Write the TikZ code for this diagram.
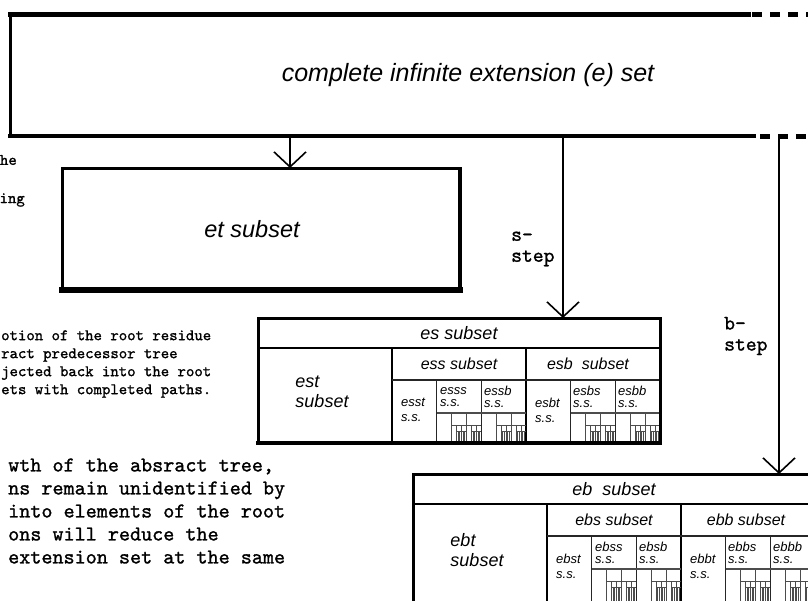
\documentclass[tikz,border=0pt]{standalone}
\usepackage{fontspec}
\setmainfont{Liberation Sans}
\newfontfamily\monof{lmmono10-regular}[Extension=.otf,FakeBold=1.2]
\usetikzlibrary{arrows.meta}
\newcommand\ybot{443}
\newcommand\subcol[4]{%
  \begingroup
  \edef\hh{\ifcase#4 30\or 32\or 33\or 12\or 6\else 3\fi}%
  \pgfmathsetmacro\xa{#1+#2/3}%
  \pgfmathsetmacro\xb{#1+2*#2/3}%
  \pgfmathsetmacro\xc{#1+#2}%
  \pgfmathsetmacro\ws{#2/3}%
  \pgfmathsetmacro\yh{#3+\hh}%
  \draw[lv#4] (#1,\yh) -- (\xc,\yh) (\xa,\yh) -- (\xa,\ybot) (\xb,\yh) -- (\xb,\ybot);
  \ifnum#4<4
    \edef\next{\noexpand\subcol{\xa}{\ws}{\yh}{\the\numexpr#4+1\relax}%
      \noexpand\subcol{\xb}{\ws}{\yh}{\the\numexpr#4+1\relax}}%
    \expandafter\next
  \fi
  \endgroup}
\tikzset{
  lv0/.style={line width=2.5pt,black},
  lv1/.style={line width=1.6pt,black!85},
  lv2/.style={line width=1.2pt,black!70},
  lv3/.style={line width=0.9pt,black!70},
  lv4/.style={line width=0.7pt,black!70},
  arr/.style={line width=1.6pt,-{Straight Barb[length=15pt,width=32pt]}},
  holder/.style={draw=none,inner sep=0pt,outer sep=0pt},
  bigtxt/.style={font=\fontsize{18}{20}\selectfont\itshape,inner sep=0pt},
  midtxt/.style={font=\fontsize{16}{18}\selectfont\itshape,inner sep=0pt},
  smtxt/.style={font=\fontsize{13}{12}\selectfont\itshape,inner sep=0pt,align=left,anchor=west},
  tcoltxt/.style={font=\fontsize{13}{15}\selectfont\itshape,inner sep=0pt,align=left,anchor=west},
  monoA/.style={font=\monof\fontsize{16}{18}\selectfont,inner sep=0pt,align=left},
  monoB/.style={font=\monof\fontsize{21.1}{23}\selectfont,inner sep=0pt,align=left},
  monoL/.style={font=\monof\fontsize{20.6}{21}\selectfont,inner sep=0pt,align=left,anchor=west},
}
\begin{document}
\begin{tikzpicture}[x=1pt,y=-1pt]
\useasboundingbox (0,0) rectangle (808,600);
\clip (0,0) rectangle (808,600);
\fill[white] (0,0) rectangle (808,600);

% main box
\node[holder,minimum width=738pt,minimum height=122pt] (main) at (379,75) {};
\draw[line width=3pt,line cap=rect] (main.north west) -- (main.south west);
\draw[line width=5pt,line cap=rect] (main.north west) -- (main.north east);
\draw[line width=4.5pt,line cap=rect] (main.south west) -- ([xshift=6pt]main.south east);
\draw[line width=5pt,dash pattern=on 10pt off 8pt] ([xshift=4pt]main.north east) -- ++(70,0);
\draw[line width=5pt,dash pattern=on 10pt off 8pt] ([xshift=12pt]main.south east) -- ++(70,0);
\node[font=\fontsize{25}{28}\selectfont\itshape,inner sep=0pt] (title) at (468,75) {complete infinite extension (e) set};

% et box
\node[holder,minimum width=398pt,minimum height=122pt] (et) at (261,229) {};
\draw[line width=3pt] (et.north west) rectangle (et.south east);
\draw[line width=6pt,line cap=rect] (et.south west) -- (et.south east);
\draw[line width=4pt] (et.north east) -- (et.south east);
\node[font=\fontsize{23.5}{26}\selectfont\itshape,inner sep=0pt] (ettxt) at (252,229) {et subset};

% es box
\node[holder,minimum width=402pt,minimum height=125pt] (es) at (459,380.5) {};
\renewcommand\ybot{443}
\subcol{258}{402}{318}{0}
\draw[line width=3pt] (es.north west) rectangle (es.south east);
\draw[line width=4.5pt,line cap=rect] (es.south west) -- (es.south east);

% eb box
\node[holder,minimum width=402pt,minimum height=156pt] (eb) at (614,552) {};
\renewcommand\ybot{640}
\subcol{413}{402}{474}{0}
\draw[line width=3pt] (eb.north west) rectangle (eb.south east);

% es texts
\node[bigtxt] (t-es) at (459,333) {es subset};
\node[bigtxt,align=left] (t-est) at (322,392) {est\\subset};
\node[midtxt] (t-ess) at (459,364) {ess subset};
\node[midtxt] (t-esb) at (588,364) {esb\ \ subset};
\node[tcoltxt] (t-esst) at (401,410) {esst\\s.s.};
\node[smtxt] (t-esss) at (440,397) {esss\\s.s.};
\node[smtxt] (t-essb) at (484,397) {essb\\s.s.};
\node[tcoltxt] (t-esbt) at (535,410) {esbt\\s.s.};
\node[smtxt] (t-esbs) at (573,397) {esbs\\s.s.};
\node[smtxt] (t-esbb) at (618,397) {esbb\\s.s.};

% eb texts
\begin{scope}[shift={(155,156)}]
\node[bigtxt] (t-eb) at (459,333) {eb\ \ subset};
\node[bigtxt,align=left] (t-ebt) at (322,394) {ebt\\subset};
\node[midtxt] (t-ebs) at (459,364) {ebs subset};
\node[midtxt] (t-ebb) at (591,364) {ebb subset};
\node[tcoltxt] (t-ebst) at (401,410) {ebst\\s.s.};
\node[smtxt] (t-ebss) at (440,397) {ebss\\s.s.};
\node[smtxt] (t-ebsb) at (484,397) {ebsb\\s.s.};
\node[tcoltxt] (t-ebbt) at (535,410) {ebbt\\s.s.};
\node[smtxt] (t-ebbs) at (573,397) {ebbs\\s.s.};
\node[smtxt] (t-ebbb) at (618,397) {ebbb\\s.s.};
\end{scope}

% connectors
\coordinate (m1) at (290,137);
\coordinate (m2) at (563,137);
\coordinate (m3) at (779,139);
\draw[arr] (m1) -- (m1 |- et.north);
\draw[arr] (m2) -- (m2 |- es.north);
\draw[arr] (m3) -- (m3 |- eb.north);
\node[monoL] (lbs) at (511,249) {s-\\step};
\node[monoL] (lbb) at (724,336) {b-\\step};

% side texts
\node[monoA,anchor=east] (fr1) at (17,160) {he};
\node[monoA,anchor=east] (fr2) at (25,200) {ing};
\node[monoA,anchor=west] (blk1) at (1,364) {otion of the root residue\\ract predecessor tree\\jected back into the root\\ets with completed paths.};
\node[monoB,anchor=west] (blk2) at (8,511) {wth of the absract tree,\\ns remain unidentified by\\into elements of the root\\ons will reduce the\\extension set at the same};
\end{tikzpicture}
\end{document}
